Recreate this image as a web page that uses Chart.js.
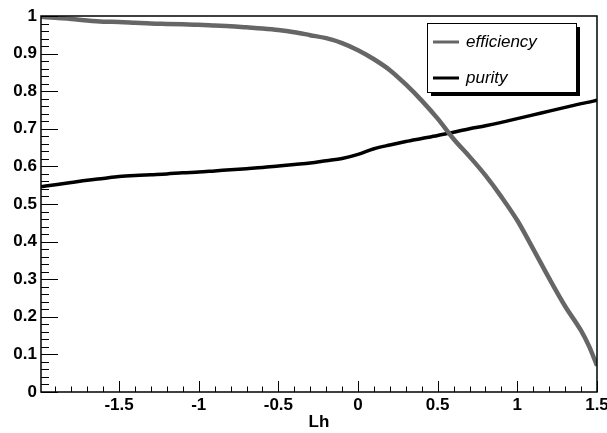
<!DOCTYPE html>
<html>
<head>
<meta charset="utf-8">
<style>
  html, body { margin: 0; padding: 0; background: #fff; }
  #wrap { width: 607px; height: 433px; }
</style>
</head>
<body>
<div id="wrap"><canvas id="effPur" width="607" height="433"></canvas></div>
<script src="https://cdn.jsdelivr.net/npm/chart.js"></script>
<script>
// likelihood cut value (Lh) and the resulting efficiency / purity
const lh = [-1.99, -1.9, -1.8, -1.7, -1.6, -1.5, -1.4, -1.3, -1.2, -1.1, -1.0, -0.9, -0.8, -0.7, -0.6, -0.5,
            -0.4, -0.3, -0.2, -0.1, 0, 0.1, 0.2, 0.3, 0.4, 0.5, 0.6, 0.7, 0.8, 0.9, 1.0, 1.1, 1.2, 1.3, 1.4, 1.45, 1.5];
const efficiency = [0.998, 0.995, 0.992, 0.988, 0.985, 0.984, 0.982, 0.980, 0.979, 0.978, 0.977, 0.975, 0.973, 0.970, 0.967, 0.963,
                    0.957, 0.949, 0.941, 0.928, 0.909, 0.885, 0.856, 0.818, 0.775, 0.727, 0.673, 0.626, 0.576, 0.519, 0.456, 0.380, 0.302, 0.228, 0.163, 0.122, 0.070];
const purity = [0.546, 0.551, 0.557, 0.563, 0.568, 0.573, 0.576, 0.578, 0.580, 0.583, 0.585, 0.588, 0.591, 0.594, 0.597, 0.601,
                0.605, 0.609, 0.615, 0.621, 0.632, 0.647, 0.657, 0.666, 0.674, 0.682, 0.691, 0.700, 0.708, 0.717, 0.727, 0.737, 0.747, 0.757, 0.767, 0.771, 0.776];
const xTicks = [-1.5, -1, -0.5, 0, 0.5, 1, 1.5];
const yTicks = [0, 0.1, 0.2, 0.3, 0.4, 0.5, 0.6, 0.7, 0.8, 0.9, 1];
const seriesNames = ['efficiency', 'purity'];

const EFF_GREY = '#666666';
const FONT = 'Liberation Sans, Arial, Helvetica, sans-serif';

// frame around the pad plus inward ROOT-style tick marks
const frameTicks = {
  id: 'frameTicks',
  afterDatasetsDraw(chart) {
    const { ctx, chartArea: a, scales: { x, y } } = chart;
    ctx.save();
    ctx.strokeStyle = '#000';
    ctx.lineWidth = 1;
    ctx.beginPath();
    for (let i = 0; i <= 50; i++) {
      const py = Math.round(y.getPixelForValue(i * 0.02)) + 0.5;
      const len = i % 5 === 0 ? 17 : 8;
      ctx.moveTo(a.left, py);
      ctx.lineTo(a.left + len, py);
    }
    for (let i = -19; i <= 15; i++) {
      const v = i * 0.1;
      if (v < x.min) continue;
      const px = Math.round(x.getPixelForValue(v)) + 0.5;
      const len = i % 5 === 0 ? 11 : 5.5;
      ctx.moveTo(px, a.bottom);
      ctx.lineTo(px, a.bottom - len);
    }
    ctx.stroke();
    ctx.lineWidth = 1.5;
    ctx.strokeRect(a.left, a.top, a.right - a.left, a.bottom - a.top);
    ctx.restore();
  }
};

// boxed legend with drop shadow in the upper right
const boxLegend = {
  id: 'boxLegend',
  afterDraw(chart) {
    const { ctx, chartArea: a } = chart;
    const bx = a.right - 170, by = a.top + 7, bw = 149, bh = 69;
    ctx.save();
    ctx.fillStyle = '#000';
    ctx.fillRect(bx + 4, by + 4, bw, bh);
    ctx.fillStyle = '#fff';
    ctx.fillRect(bx, by, bw, bh);
    ctx.strokeStyle = '#000';
    ctx.lineWidth = 1;
    ctx.strokeRect(bx + 0.5, by + 0.5, bw, bh);
    const rows = [by + 19, by + 55];
    chart.data.datasets.forEach((ds, i) => {
      ctx.strokeStyle = ds.borderColor;
      ctx.lineWidth = 3;
      ctx.beginPath();
      ctx.moveTo(bx + 6, rows[i]);
      ctx.lineTo(bx + 32, rows[i]);
      ctx.stroke();
      ctx.fillStyle = '#000';
      ctx.font = 'italic 17px ' + FONT;
      ctx.textBaseline = 'middle';
      ctx.textAlign = 'left';
      ctx.fillText(ds.label, bx + 39, rows[i]);
    });
    ctx.restore();
  }
};

const tickFont = { family: FONT, weight: 'bold', size: 17 };

new Chart(document.getElementById('effPur'), {
  type: 'line',
  data: {
    datasets: [
      {
        label: seriesNames[0],
        data: lh.map((v, i) => ({ x: v, y: efficiency[i] })),
        borderColor: EFF_GREY,
        backgroundColor: EFF_GREY,
        borderWidth: 4.5,
        pointRadius: 0,
        cubicInterpolationMode: 'monotone'
      },
      {
        label: seriesNames[1],
        data: lh.map((v, i) => ({ x: v, y: purity[i] })),
        borderColor: '#000',
        backgroundColor: '#000',
        borderWidth: 3.5,
        pointRadius: 0,
        cubicInterpolationMode: 'monotone'
      }
    ]
  },
  options: {
    responsive: false,
    animation: false,
    layout: { padding: { top: 16, right: 10, left: 0, bottom: 0 } },
    plugins: { legend: { display: false }, tooltip: { enabled: false } },
    scales: {
      x: {
        type: 'linear',
        min: -1.99,
        max: 1.5,
        grid: { display: false, drawTicks: false },
        border: { display: false },
        afterBuildTicks: s => { s.ticks = xTicks.map(v => ({ value: v })); },
        afterFit: s => { s.height = 41; s.paddingLeft = 0; s.paddingRight = 0; },
        ticks: { color: '#000', font: tickFont, padding: 3, maxRotation: 0, autoSkip: false, callback: v => String(v) },
        title: { display: true, text: 'Lh', color: '#000', font: tickFont, padding: { top: 0, bottom: 0 } }
      },
      y: {
        type: 'linear',
        min: 0,
        max: 1,
        grid: { display: false, drawTicks: false },
        border: { display: false },
        afterBuildTicks: s => { s.ticks = yTicks.map(v => ({ value: v })); },
        afterFit: s => { s.width = 41; s.paddingTop = 0; s.paddingBottom = 0; },
        ticks: { color: '#000', font: tickFont, padding: 4, autoSkip: false, callback: v => String(v) }
      }
    }
  },
  plugins: [frameTicks, boxLegend]
});
</script>
</body>
</html>
